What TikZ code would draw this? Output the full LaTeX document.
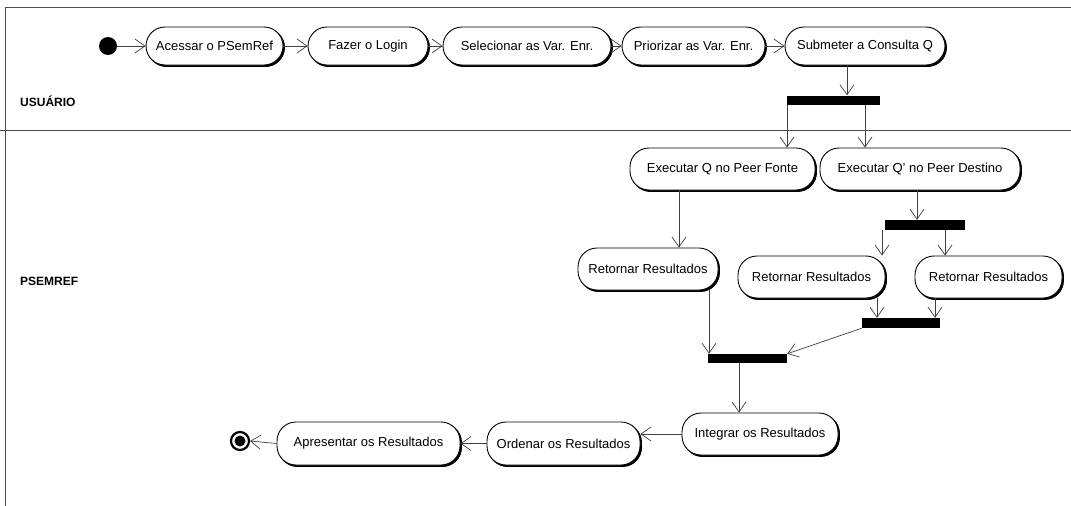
\documentclass[tikz,border=0pt]{standalone}
\usepackage{fontspec}
\setmainfont{Liberation Sans}
\usetikzlibrary{arrows.meta,shadows}
\begin{document}
\begin{tikzpicture}[x=1pt,y=-1pt,
  act/.style={draw=black, line width=0.9pt, rounded corners=19pt, fill=white,
    minimum height=40pt, inner sep=0pt, font=\fontsize{13}{15}\selectfont,
    copy shadow={shadow xshift=1.5pt, shadow yshift=-1.5pt, fill=black, draw=black}},
  bar/.style={fill=black, draw=none, inner sep=0pt, minimum height=9pt},
  flow/.style={draw=black!75, line width=0.7pt, -{Straight Barb[length=10pt,width=14pt]}},
  lane/.style={draw=black!70, line width=0.9pt},
  lanelabel/.style={anchor=west, inner sep=0pt, font=\fontsize{12}{14}\selectfont\bfseries}]
\useasboundingbox (0,0) rectangle (1071,506);
\fill[white] (0,0) rectangle (1071,506);

% swimlane frame
\draw[lane] (1071,7) -- (5,7) -- (5,506);
\draw[lane] (0,130) -- (1071,130);
\node[lanelabel] (lu) at (20,101) {USUÁRIO};
\node[lanelabel] (lp) at (20,281) {PSEMREF};

% column guides for vertical connectors
\foreach \x in {679,709,739,787,847,865,877,882,917,935,945}
  \coordinate (x\x) at (\x,0);

% user lane
\node[circle, fill=black, inner sep=0pt, minimum size=18pt] (start) at (108,46) {};
\node[act, minimum width=137pt, minimum height=38pt] (acc) at (214.5,46) {Acessar o PSemRef};
\node[act, minimum width=120pt, minimum height=38pt] (login) at (368,46) {Fazer o Login};
\node[act, minimum width=168pt, minimum height=38pt] (sel) at (527,46) {Selecionar as Var. Enr.};
\node[act, minimum width=143pt, minimum height=38pt] (prio) at (693.5,46) {Priorizar as Var. Enr.};
\node[act, minimum width=160pt, minimum height=38pt] (sub) at (865,46) {Submeter a Consulta Q};
\node[bar, minimum width=93pt] (bar1) at (833.5,100) {};

% system lane
\node[act, minimum width=185pt, minimum height=42pt] (exq) at (722.5,169) {Executar Q no Peer Fonte};
\node[act, minimum width=200pt, minimum height=42pt] (exd) at (920,169) {Executar Q' no Peer Destino};
\node[bar, minimum width=80pt, minimum height=10pt] (bar2) at (925,225) {};
\node[act, minimum width=140pt, minimum height=42pt] (ret1) at (648,269) {Retornar Resultados};
\node[act, minimum width=147pt, minimum height=42pt] (ret2) at (811.5,277) {Retornar Resultados};
\node[act, minimum width=147pt, minimum height=42pt] (ret3) at (988.5,277) {Retornar Resultados};
\node[bar, minimum width=78pt, minimum height=10pt] (bar3) at (901,323) {};
\node[bar, minimum width=79pt] (bar4) at (747.5,358.5) {};
\node[act, minimum width=156pt, minimum height=42pt] (int) at (760,434) {Integrar os Resultados};
\node[act, minimum width=153pt, minimum height=43pt] (ord) at (563.5,443.5) {Ordenar os Resultados};
\node[act, minimum width=183pt, minimum height=43pt] (apr) at (368.5,443.5) {Apresentar os Resultados};
\node[circle, draw=black, line width=2.2pt, fill=white, inner sep=0pt, minimum size=18pt] (fin) at (240,441) {};
\node[circle, fill=black, inner sep=0pt, minimum size=11pt] (fincore) at (fin.center) {};

% flow
\draw[flow] (start) -- (acc.west);
\draw[flow] (acc.east) -- (login.west);
\draw[flow] (login.east) -- (sel.west);
\draw[flow] (sel.east) -- (prio.west);
\draw[flow] (prio.east) -- (sub.west);
\draw[flow] (sub.south -| x847) -- (bar1.north -| x847);
\draw[flow] (bar1.south -| x787) -- (exq.north -| x787);
\draw[flow] (bar1.south -| x865) -- (exd.north -| x865);
\draw[flow] (exd.south -| x917) -- (bar2.north -| x917);
\draw[flow] (bar2.south -| x882) -- (ret2.north -| x882);
\draw[flow] (bar2.south -| x945) -- (ret3.north -| x945);
\draw[flow] (exq.south -| x679) -- (ret1.north -| x679);
\draw[flow] (ret2.south -| x877) -- (bar3.north -| x877);
\draw[flow] (ret3.south -| x935) -- (bar3.north -| x935);
\draw[flow] (ret1.south -| x709) -- (bar4.north -| x709);
\draw[flow] (bar3.south west) -- (bar4.north east);
\draw[flow] (bar4.south -| x739) -- (int.north -| x739);
\draw[flow] (int.west) -- (ord.east |- int.west);
\draw[flow] (ord.west) -- (apr.east);
\draw[flow] (apr.west) -- (fin.east);
\end{tikzpicture}
\end{document}
